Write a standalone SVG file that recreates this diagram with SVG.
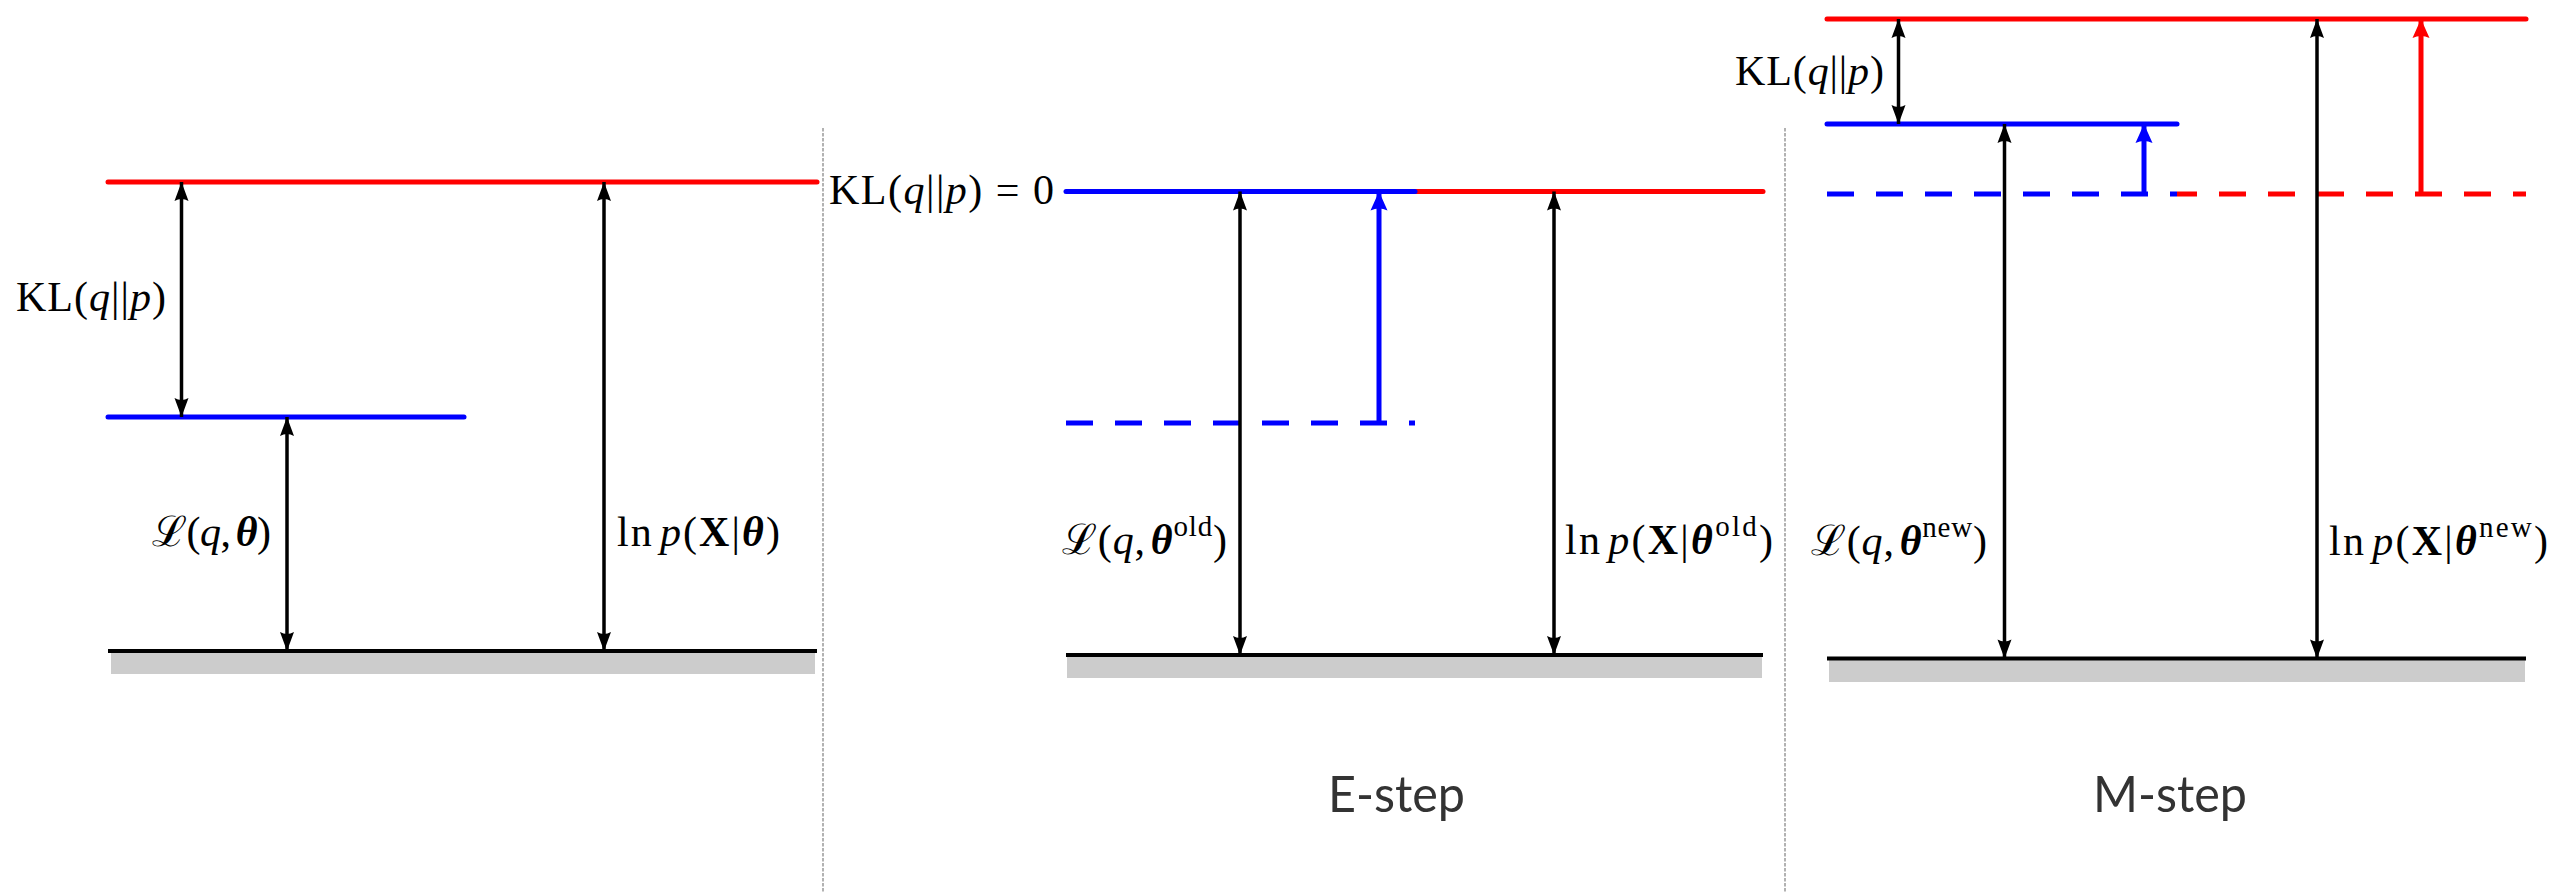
<svg xmlns="http://www.w3.org/2000/svg" width="2554" height="892" viewBox="0 0 2554 892">
<style>
  .bg{fill:#ffffff}
  .red{stroke:#ff0000;stroke-width:5;stroke-linecap:round;fill:none}
  .blue{stroke:#0000ff;stroke-width:5;stroke-linecap:round;fill:none}
  .redd{stroke:#ff0000;stroke-width:5;stroke-linecap:butt;fill:none;stroke-dasharray:27 22}
  .blued{stroke:#0000ff;stroke-width:5;stroke-linecap:butt;fill:none;stroke-dasharray:27 22}
  .base{stroke:#000000;stroke-width:4;fill:none}
  .ground{fill:#cccccc}
  .div{stroke:#999999;stroke-width:1.5;stroke-dasharray:3.5 1.5;fill:none}
  .arr{stroke:#000000;stroke-width:3.5;fill:none;marker-start:url(#ah);marker-end:url(#ah)}
  .barr{stroke:#0000ff;stroke-width:5;fill:none;marker-end:url(#ahb)}
  .rarr{stroke:#ff0000;stroke-width:5;fill:none;marker-end:url(#ahr)}
  .math{font-family:"Liberation Serif","DejaVu Serif",serif;font-size:42px;fill:#000000}
  .it{font-style:italic}
  .bf{font-weight:bold}
  .bi{font-weight:bold;font-style:italic}
  .sup{font-size:29px}
  .step{font-family:Lato,"Open Sans",sans-serif;font-size:51px;fill:#333333}
</style>
<defs>
  <marker id="ah" viewBox="-20 -8 21 16" refX="0" refY="0" markerWidth="21" markerHeight="16" markerUnits="userSpaceOnUse" orient="auto-start-reverse">
    <path d="M0,0 L-19,-7 Q-15,0 -19,7 Z" fill="#000000"/>
  </marker>
  <marker id="ahb" viewBox="-20 -9 21 18" refX="0" refY="0" markerWidth="21" markerHeight="18" markerUnits="userSpaceOnUse" orient="auto">
    <path d="M0,0 L-19,-8.5 Q-15,0 -19,8.5 Z" fill="#0000ff"/>
  </marker>
  <marker id="ahr" viewBox="-20 -9 21 18" refX="0" refY="0" markerWidth="21" markerHeight="18" markerUnits="userSpaceOnUse" orient="auto">
    <path d="M0,0 L-19,-8.5 Q-15,0 -19,8.5 Z" fill="#ff0000"/>
  </marker>
</defs>
<rect class="bg" x="0" y="0" width="2554" height="892"/>

<g id="dividers">
  <line class="div" x1="823" y1="128" x2="823" y2="892"/>
  <line class="div" x1="1785" y1="128" x2="1785" y2="892"/>
</g>

<g id="panel-left">
  <rect class="ground" x="111" y="652" width="704" height="22"/>
  <line class="base" x1="108" y1="651" x2="817" y2="651"/>
  <line id="left-lnp" class="red" x1="108" y1="182" x2="817" y2="182"/>
  <line id="left-L" class="blue" x1="108" y1="417" x2="464" y2="417"/>
</g>

<g id="panel-estep">
  <rect class="ground" x="1067" y="656" width="695" height="22"/>
  <line class="base" x1="1066" y1="655" x2="1763" y2="655"/>
  <line id="e-old-L" class="blued" x1="1066" y1="423" x2="1415" y2="423"/>
  <line id="e-lnp" class="red" x1="1415" y1="191.5" x2="1763" y2="191.5"/>
  <line id="e-L" class="blue" x1="1066" y1="191.5" x2="1415" y2="191.5"/>
</g>

<g id="panel-mstep">
  <rect class="ground" x="1829" y="660" width="696" height="22"/>
  <line class="base" x1="1827" y1="658.5" x2="2526" y2="658.5"/>
  <line id="m-old-L" class="blued" x1="1827" y1="194" x2="2177" y2="194"/>
  <line id="m-old-lnp" class="redd" x1="2177" y1="194" x2="2526" y2="194" stroke-dashoffset="7"/>
  <line id="m-L" class="blue" x1="1827" y1="124" x2="2177" y2="124"/>
  <line id="m-lnp" class="red" x1="1827" y1="19" x2="2526" y2="19"/>
</g>

<g id="connectors">
  <line class="arr" x1="181.5" y1="182" x2="181.5" y2="417"/>
  <line class="arr" x1="287" y1="417" x2="287" y2="651"/>
  <line class="arr" x1="604" y1="182" x2="604" y2="651"/>
  <line class="arr" x1="1240" y1="191.5" x2="1240" y2="655"/>
  <line class="arr" x1="1554" y1="191.5" x2="1554" y2="655"/>
  <line class="barr" x1="1379" y1="423" x2="1379" y2="191.5"/>
  <line class="arr" x1="1898.5" y1="19" x2="1898.5" y2="124"/>
  <line class="arr" x1="2004.5" y1="124" x2="2004.5" y2="658.5"/>
  <line class="arr" x1="2317" y1="19" x2="2317" y2="658.5"/>
  <line class="barr" x1="2144" y1="194" x2="2144" y2="124"/>
  <line class="rarr" x1="2421" y1="194" x2="2421" y2="19"/>
</g>

<g id="labels">
  <text class="math" x="16" y="311" textLength="150" lengthAdjust="spacing">KL(<tspan class="it">q</tspan>||<tspan class="it">p</tspan>)</text>
  <text class="math" x="152" y="546" textLength="119" lengthAdjust="spacing">ℒ(<tspan class="it">q</tspan>,<tspan class="bi" dx="5">θ</tspan>)</text>
  <text class="math" x="617" y="546" textLength="163" lengthAdjust="spacing">ln<tspan class="it" dx="6">p</tspan>(<tspan class="bf">X</tspan>|<tspan class="bi">θ</tspan>)</text>

  <text class="math" x="829" y="204" textLength="225" lengthAdjust="spacing">KL(<tspan class="it">q</tspan>||<tspan class="it">p</tspan>) = 0</text>
  <text class="math" x="1062" y="554" textLength="165" lengthAdjust="spacing">ℒ(<tspan class="it">q</tspan>,<tspan class="bi" dx="5">θ</tspan><tspan class="sup" dy="-18">old</tspan><tspan dy="18">)</tspan></text>
  <text class="math" x="1565" y="554" textLength="208" lengthAdjust="spacing">ln<tspan class="it" dx="6">p</tspan>(<tspan class="bf">X</tspan>|<tspan class="bi">θ</tspan><tspan class="sup" dy="-18">old</tspan><tspan dy="18">)</tspan></text>

  <text class="math" x="1735" y="85" textLength="149" lengthAdjust="spacing">KL(<tspan class="it">q</tspan>||<tspan class="it">p</tspan>)</text>
  <text class="math" x="1811" y="555" textLength="176" lengthAdjust="spacing">ℒ(<tspan class="it">q</tspan>,<tspan class="bi" dx="5">θ</tspan><tspan class="sup" dy="-18">new</tspan><tspan dy="18">)</tspan></text>
  <text class="math" x="2329" y="555" textLength="219" lengthAdjust="spacing">ln<tspan class="it" dx="6">p</tspan>(<tspan class="bf">X</tspan>|<tspan class="bi">θ</tspan><tspan class="sup" dy="-18">new</tspan><tspan dy="18">)</tspan></text>

  <text class="step" x="1328" y="812" textLength="137" lengthAdjust="spacingAndGlyphs">E-step</text>
  <text class="step" x="2093" y="812" textLength="154" lengthAdjust="spacingAndGlyphs">M-step</text>
</g>
</svg>
